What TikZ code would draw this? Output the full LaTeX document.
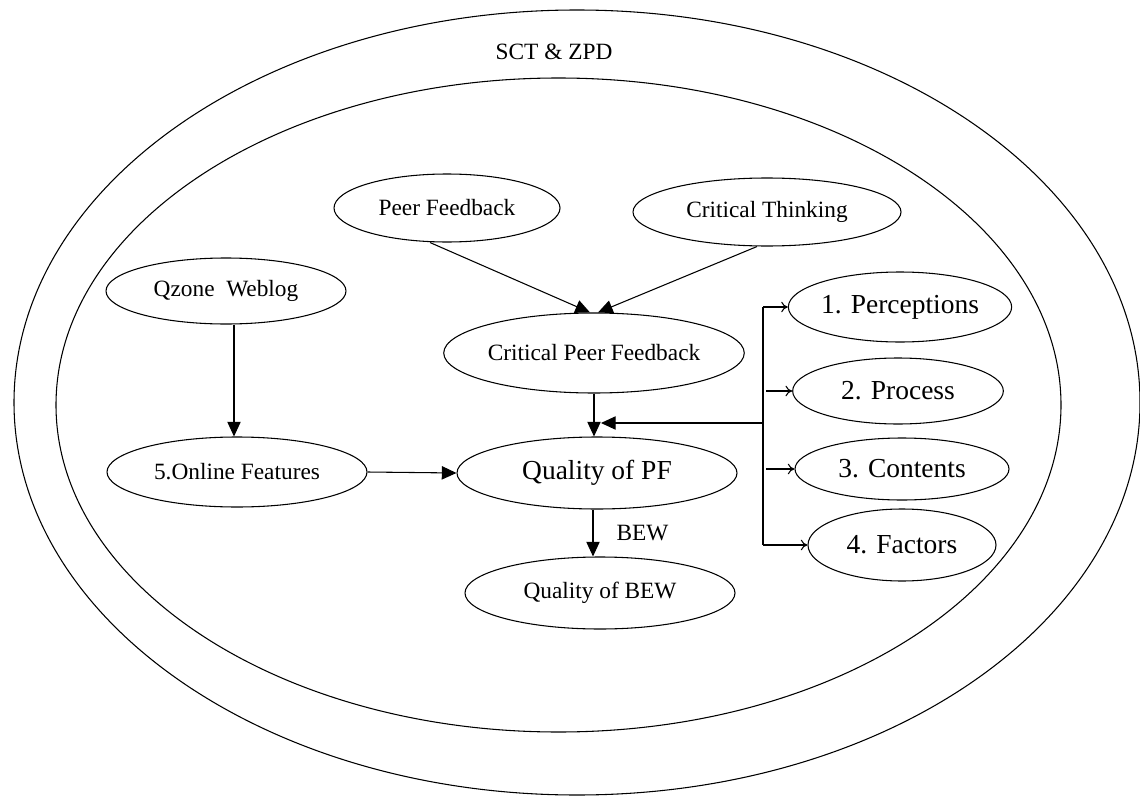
\documentclass[tikz,border=0pt]{standalone}
\usepackage{fontspec}
\setmainfont{Liberation Serif}
\usetikzlibrary{arrows.meta,shapes.geometric}

\tikzset{
  oval/.style={draw, ellipse, inner sep=0pt, line width=0.8pt},
  smalltext/.style={font=\fontsize{17.5}{20}\selectfont},
  largetext/.style={font=\fontsize{20.6}{24}\selectfont},
  bigarrow/.style={line width=0.8pt, -{Triangle[length=11pt,width=10pt]}},
  thinarrow/.style={line width=0.8pt, -{To[length=5pt,width=8pt]}},
  plainline/.style={line width=0.8pt}
}

\begin{document}
\begin{tikzpicture}[x=0.75pt, y=-0.75pt]
\useasboundingbox (0,0) rectangle (1140,796);

% theory frame: two nested ellipses
\node[oval, minimum width=844.5pt, minimum height=588.75pt] (outer) at (577,402.5) {};
\node[oval, minimum width=753.75pt, minimum height=490.5pt] (inner) at (558.5,405) {};
\node[smalltext] (frame) at (554,52) {SCT \& ZPD};

% concept nodes
\node[oval, smalltext, minimum width=169.5pt, minimum height=51pt] (pf) at (447,208) {Peer Feedback};
\node[oval, smalltext, minimum width=201pt, minimum height=51pt] (ct) at (767,212) {Critical Thinking};
\node[oval, smalltext, minimum width=180pt, minimum height=49.5pt] (qw) at (226,291) {Qzone\ \ Weblog};
\node[oval, smalltext, minimum width=195pt, minimum height=52.5pt] (of) at (237,472) {5.Online Features};
\node[oval, smalltext, minimum width=213pt, minimum height=60pt] (cpf) at (594,353) {Critical Peer Feedback};
\node[oval, largetext, minimum width=210pt, minimum height=54pt] (qpf) at (597,473) {Quality of PF};
\node[oval, smalltext, minimum width=202.5pt, minimum height=54pt] (qbew) at (600,593) {Quality of BEW};

% research questions
\node[oval, largetext, minimum width=160.5pt, minimum height=52.5pt] (rq1) at (900,307) {1. Perceptions};
\node[oval, largetext, minimum width=158pt, minimum height=49.5pt] (rq2) at (898,391) {2. Process};
\node[oval, largetext, minimum width=160.5pt, minimum height=46.5pt] (rq3) at (902,469) {3. Contents};
\node[oval, largetext, minimum width=141pt, minimum height=54pt] (rq4) at (902,545) {4. Factors};

% bracket coordinates
\coordinate (brT) at (763,307);
\coordinate (brB) at (763,545);
\coordinate (brM) at (763,423);
\coordinate (fbTip) at (601,423);
\coordinate (p2s) at (766,391);
\coordinate (p3s) at (766,469);

% connectors
\draw[bigarrow] (pf.south) ++(-17,0) -- ([xshift=-3pt]cpf.north);
\draw[bigarrow] (ct.south) ++(-10,0) -- ([xshift=3pt]cpf.north);
\draw[bigarrow] ([xshift=6pt]qw.south) -- ([xshift=6pt]qw.south |- of.north);
\draw[bigarrow] (of.east) -- (qpf.west);
\draw[bigarrow] (cpf.south) -- (cpf.south |- qpf.north);
\draw[bigarrow] ([xshift=-3pt]qpf.south) -- ([xshift=-3pt]qpf.south |- qbew.north)
  node[midway, right=14pt, smalltext] (bew) {BEW};

% bracket to the research questions
\draw[plainline] (brT) -- (brB);
\draw[thinarrow] (brT) -- (rq1.west);
\draw[thinarrow] (brB) -- (rq4.west);
\draw[thinarrow] (p2s) -- (rq2.west);
\draw[thinarrow] (p3s) -- (rq3.west);
\draw[bigarrow] (brM) -- (fbTip);

\end{tikzpicture}
\end{document}
